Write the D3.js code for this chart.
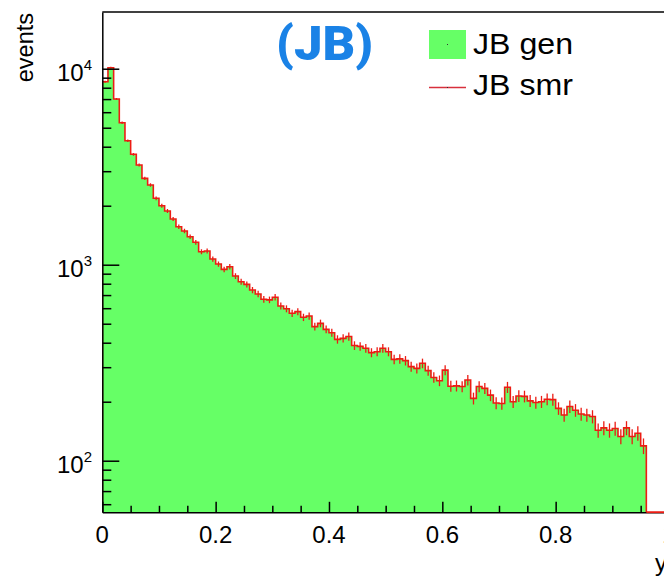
<!DOCTYPE html>
<html>
<head>
<meta charset="utf-8">
<script src="https://cdn.jsdelivr.net/npm/d3@7"></script>
<style>
  html, body { margin: 0; padding: 0; background: #fff; }
  svg { display: block; }
</style>
</head>
<body>
<svg id="chart" width="664" height="579"></svg>
<script>
// Histogram binning: 100 bins of width 0.01 on [0,1]; entries stop at y = 0.96
const binLow = 0;
const binWidth = 0.01;

// Generated-level JB counts per bin
const genCounts = [
  8585, 10118, 7005, 5303, 4292, 3658, 3227, 2759, 2551, 2182,
  2000, 1879, 1711, 1563, 1486, 1390, 1301, 1165, 1175, 1069,
  1008, 947, 977, 876, 819, 794, 743, 709, 666, 662,
  682, 616, 596, 565, 576, 539, 547, 483, 502, 468,
  450, 416, 421, 430, 387, 383, 375, 356, 360, 375,
  360, 329, 331, 324, 302, 296, 314, 288, 266, 256,
  290, 240, 241, 239, 258, 208, 239, 234, 216, 197,
  196, 237, 200, 214, 213, 202, 198, 200, 206, 205,
  185, 171, 189, 181, 173, 171, 168, 143, 147, 143,
  146, 133, 147, 133, 138, 119
];

// Smeared JB counts per bin
const smrCounts = [
  8585, 10118, 7005, 5303, 4292, 3658, 3227, 2759, 2551, 2182,
  2000, 1879, 1711, 1563, 1486, 1390, 1301, 1165, 1175, 1069,
  1008, 947, 977, 876, 819, 794, 743, 709, 666, 662,
  682, 616, 596, 565, 576, 539, 547, 483, 502, 468,
  450, 416, 421, 430, 387, 383, 375, 356, 360, 375,
  360, 329, 331, 324, 302, 296, 314, 288, 266, 256,
  290, 240, 241, 239, 258, 208, 239, 234, 216, 197,
  196, 237, 200, 214, 213, 202, 198, 200, 206, 205,
  185, 171, 189, 181, 173, 171, 168, 143, 147, 143,
  146, 133, 147, 133, 138, 119
];

// Axis ranges and tick values
const xDomain = [0, 1];
const yDomain = [54.55, 19470];
const xMajorTicks = [0, 0.2, 0.4, 0.6, 0.8, 1.0];
const xMinorTicks = [0.05, 0.1, 0.15, 0.25, 0.3, 0.35, 0.45, 0.5, 0.55, 0.65, 0.7, 0.75, 0.85, 0.9, 0.95];
const yMajorTicks = [100, 1000, 10000];
const yMajorExponents = ["2", "3", "4"];
const yMinorTicks = [60, 70, 80, 90,
  200, 300, 400, 500, 600, 700, 800, 900,
  2000, 3000, 4000, 5000, 6000, 7000, 8000, 9000];

const xTitle = "y";
const yTitle = "events";
const tag = "(JB)";
const legendLabels = ["JB gen", "JB smr"];

const fillGreen = "#66ff66";
const lineRed = "#ec1c14";
const tagBlue = "#1a82e6";
const font = "'Liberation Sans', Arial, Helvetica, sans-serif";

const svg = d3.select("#chart");
svg.append("rect").attr("width", 664).attr("height", 579).attr("fill", "#fff");

// Frame geometry: right edge (y = 1) lies just past the visible page
const frame = { left: 102.3, right: 669, top: 12, bottom: 512.3 };

const x = d3.scaleLinear().domain(xDomain).range([frame.left, frame.right]);
const y = d3.scaleLog().domain(yDomain).range([frame.bottom, frame.top]);

svg.append("defs").append("clipPath").attr("id", "plotClip")
  .append("rect")
  .attr("x", frame.left).attr("y", frame.top)
  .attr("width", frame.right - frame.left)
  .attr("height", frame.bottom - frame.top);

const plot = svg.append("g").attr("clip-path", "url(#plotClip)");

// Bin edges paired with contents, closing point at the last upper edge
function stepPoints(counts) {
  const pts = counts.map((c, i) => [binLow + i * binWidth, c]);
  pts.push([binLow + counts.length * binWidth, counts[counts.length - 1]]);
  return pts;
}

// Filled generated-level histogram
const genArea = d3.area()
  .curve(d3.curveStepAfter)
  .x(d => x(d[0]))
  .y0(frame.bottom)
  .y1(d => y(d[1]));

plot.append("path")
  .datum(stepPoints(genCounts))
  .attr("d", genArea)
  .attr("fill", fillGreen)
  .attr("stroke", "none");

// Smeared histogram outline, dropping to the axis after the last filled bin
const smrPts = stepPoints(smrCounts);
const lastEdge = smrPts[smrPts.length - 1][0];
const outline = [[binLow, yDomain[0]]].concat(smrPts, [[lastEdge, yDomain[0]], [xDomain[1], yDomain[0]]]);

const stepLine = d3.line()
  .curve(d3.curveStepAfter)
  .x(d => x(d[0]))
  .y(d => y(Math.max(d[1], yDomain[0])));

plot.append("path")
  .datum(outline)
  .attr("d", stepLine)
  .attr("fill", "none")
  .attr("stroke", lineRed)
  .attr("stroke-width", 1.6);

// Poisson error bars at bin centres
plot.append("g").selectAll("line")
  .data(smrCounts)
  .join("line")
  .attr("x1", (c, i) => x(binLow + (i + 0.5) * binWidth))
  .attr("x2", (c, i) => x(binLow + (i + 0.5) * binWidth))
  .attr("y1", c => y(c + Math.sqrt(c)))
  .attr("y2", c => y(c - Math.sqrt(c)))
  .attr("stroke", lineRed)
  .attr("stroke-width", 1.3);

// Frame lines
const frameG = svg.append("g").attr("stroke", "#000").attr("stroke-width", 1.5).attr("fill", "none");
frameG.append("line").attr("x1", frame.left).attr("x2", frame.right).attr("y1", frame.top).attr("y2", frame.top);

// Y axis: ticks point into the plot
function styleAxis(g) {
  g.selectAll("path").attr("stroke", "#000").attr("stroke-width", 1.5);
  g.selectAll("line").attr("stroke", "#000").attr("stroke-width", 1.5);
  g.selectAll("text").remove();
}

svg.append("g")
  .attr("transform", `translate(${frame.left},0)`)
  .call(d3.axisLeft(y).tickValues(yMajorTicks).tickSize(-17).tickSizeOuter(0).tickFormat(""))
  .call(styleAxis);

svg.append("g")
  .attr("transform", `translate(${frame.left},0)`)
  .call(d3.axisLeft(y).tickValues(yMinorTicks).tickSize(-9).tickSizeOuter(0).tickFormat(""))
  .call(styleAxis)
  .call(g => g.select(".domain").remove());

// X axis: ticks point up into the plot
svg.append("g")
  .attr("transform", `translate(0,${frame.bottom})`)
  .call(d3.axisBottom(x).tickValues(xMajorTicks).tickSize(-10.5).tickSizeOuter(0).tickFormat(""))
  .call(styleAxis);

svg.append("g")
  .attr("transform", `translate(0,${frame.bottom})`)
  .call(d3.axisBottom(x).tickValues(xMinorTicks).tickSize(-6.5).tickSizeOuter(0).tickFormat(""))
  .call(styleAxis)
  .call(g => g.select(".domain").remove());

// Red outline continues over the bottom axis past the last bin
svg.append("line")
  .attr("x1", x(lastEdge)).attr("x2", x(xDomain[1]))
  .attr("y1", frame.bottom).attr("y2", frame.bottom)
  .attr("stroke", lineRed).attr("stroke-width", 1.6);

// Y tick labels as powers of ten
const yLabels = svg.append("g").attr("font-family", font).attr("fill", "#000");
yMajorTicks.forEach((v, i) => {
  const t = yLabels.append("text")
    .attr("x", 92)
    .attr("y", y(v) + 12)
    .attr("text-anchor", "end")
    .attr("font-size", 24);
  t.append("tspan").text("10");
  t.append("tspan").attr("dy", -10.5).attr("font-size", 15).text(yMajorExponents[i]);
});

// X tick labels
const xFmt = v => (v === 0 ? "0" : v === 1 ? "1" : v.toFixed(1));
svg.append("g").attr("font-family", font).attr("font-size", 24).attr("fill", "#000")
  .selectAll("text")
  .data(xMajorTicks)
  .join("text")
  .attr("x", d => x(d))
  .attr("y", 543)
  .attr("text-anchor", "middle")
  .text(xFmt);

// Axis titles
svg.append("text")
  .attr("transform", "translate(33,13) rotate(-90)")
  .attr("text-anchor", "end")
  .attr("font-family", font)
  .attr("font-size", 23.5)
  .text(yTitle);

svg.append("text")
  .attr("x", 667)
  .attr("y", 571)
  .attr("text-anchor", "end")
  .attr("font-family", font)
  .attr("font-size", 24)
  .text(xTitle);

// Sample tag
svg.append("text")
  .attr("x", 276)
  .attr("y", 60)
  .attr("font-family", "Roboto, 'DejaVu Sans', sans-serif")
  .attr("font-weight", 900)
  .attr("font-size", 48)
  .attr("textLength", 97)
  .attr("lengthAdjust", "spacingAndGlyphs")
  .attr("fill", tagBlue)
  .text(tag);

// Legend
const legend = svg.append("g");
legend.append("rect")
  .attr("x", 429).attr("y", 30).attr("width", 37).attr("height", 29)
  .attr("fill", fillGreen);
legend.append("rect")
  .attr("x", 447).attr("y", 44).attr("width", 1).attr("height", 1).attr("fill", "#333");
legend.append("line")
  .attr("x1", 429).attr("x2", 466).attr("y1", 87.5).attr("y2", 87.5)
  .attr("stroke", "#d8303c").attr("stroke-width", 1.3);
legend.append("rect")
  .attr("x", 447).attr("y", 87).attr("width", 1).attr("height", 1).attr("fill", "#333");

legend.selectAll("text.lab")
  .data(legendLabels)
  .join("text")
  .attr("class", "lab")
  .attr("x", 473)
  .attr("y", (d, i) => 54 + i * 41)
  .attr("font-family", font)
  .attr("font-size", 29)
  .attr("textLength", 100)
  .attr("lengthAdjust", "spacingAndGlyphs")
  .text(d => d);
</script>
</body>
</html>
